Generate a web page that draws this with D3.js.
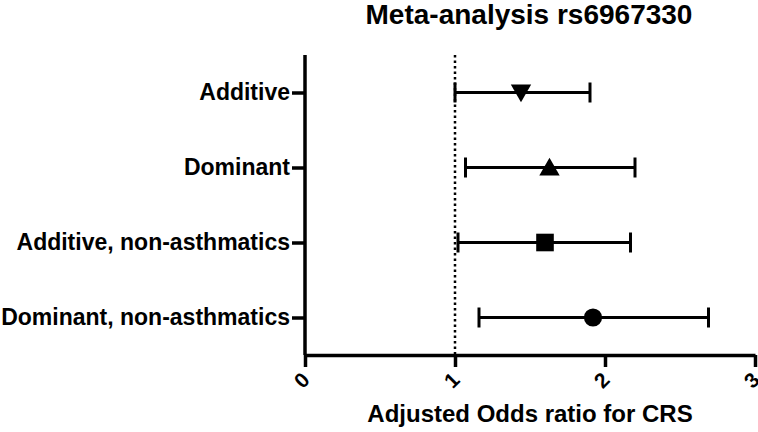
<!DOCTYPE html>
<html>
<head>
<meta charset="utf-8">
<script src="https://d3js.org/d3.v7.min.js"></script>
<style>
  body { margin: 0; background: #fff; }
  text { font-family: "Liberation Sans", Arial, sans-serif; font-weight: bold; fill: #000; }
</style>
</head>
<body>
<svg id="chart" width="758" height="432"></svg>
<script>
// data
var categories = ["Additive", "Dominant", "Additive, non-asthmatics", "Dominant, non-asthmatics"];
var oddsRatio  = [1.44, 1.63, 1.60, 1.92];
var lowerCI    = [1.00, 1.07, 1.02, 1.16];
var upperCI    = [1.90, 2.20, 2.17, 2.69];
var symbols    = ["triangleDown", "triangle", "square", "circle"];
var xTicks     = [0, 1, 2, 3];

var svg = d3.select("#chart");
var plotLeft = 305, plotRight = 755, plotTop = 55, plotBottom = 355;

var x = d3.scaleLinear().domain([0, 3]).range([plotLeft, plotRight]);
var y = d3.scalePoint().domain(categories).range([plotTop, plotBottom]).padding(0.5);

// title
svg.append("text")
  .attr("x", 529).attr("y", 24)
  .attr("text-anchor", "middle")
  .style("font-size", "28px")
  .text("Meta-analysis rs6967330");

// reference line at OR = 1
svg.append("line")
  .attr("x1", x(1)).attr("x2", x(1))
  .attr("y1", plotTop).attr("y2", plotBottom)
  .attr("stroke", "#000").attr("stroke-width", 2.5)
  .attr("stroke-dasharray", "2.5,3");

// x axis
var xAxis = svg.append("g")
  .attr("transform", "translate(0," + plotBottom + ")")
  .call(d3.axisBottom(x).tickValues(xTicks).tickFormat(d3.format("d")).tickSize(12).tickSizeOuter(0));
xAxis.select(".domain").attr("stroke-width", 3.5);
xAxis.selectAll(".tick line").attr("stroke-width", 3.5);
xAxis.selectAll(".tick text")
  .style("font-size", "21px")
  .attr("text-anchor", "middle")
  .attr("dominant-baseline", "central")
  .attr("dy", null)
  .attr("y", 0)
  .attr("transform", "translate(-4,25) rotate(-45)");

svg.append("text")
  .attr("x", 530).attr("y", 422)
  .attr("text-anchor", "middle")
  .style("font-size", "24px")
  .text("Adjusted Odds ratio for CRS");

// y axis
var yAxis = svg.append("g")
  .attr("transform", "translate(" + plotLeft + ",0)")
  .call(d3.axisLeft(y).tickSize(13).tickSizeOuter(0));
yAxis.select(".domain").attr("stroke-width", 3.5)
  .attr("d", "M0," + plotTop + "V" + plotBottom);
yAxis.selectAll(".tick line").attr("stroke-width", 3.5);
yAxis.selectAll(".tick text")
  .style("font-size", "23px")
  .attr("x", -15);

// error bars
var rows = categories.map(function(c, i) {
  return { cat: c, or: oddsRatio[i], lo: lowerCI[i], hi: upperCI[i], sym: symbols[i] };
});

var g = svg.append("g");
g.selectAll(".ci").data(rows).enter().append("line")
  .attr("x1", function(d) { return x(d.lo); })
  .attr("x2", function(d) { return x(d.hi); })
  .attr("y1", function(d) { return y(d.cat); })
  .attr("y2", function(d) { return y(d.cat); })
  .attr("stroke", "#000").attr("stroke-width", 3);

["lo", "hi"].forEach(function(k) {
  g.selectAll(".cap-" + k).data(rows).enter().append("line")
    .attr("x1", function(d) { return x(d[k]); })
    .attr("x2", function(d) { return x(d[k]); })
    .attr("y1", function(d) { return y(d.cat) - 10; })
    .attr("y2", function(d) { return y(d.cat) + 10; })
    .attr("stroke", "#000").attr("stroke-width", 3);
});

var symMap = {
  triangleDown: { type: d3.symbolTriangle, rot: 180, size: 180 },
  triangle: { type: d3.symbolTriangle, rot: 0, size: 180 },
  square: { type: d3.symbolSquare, rot: 0, size: 310 },
  circle: { type: d3.symbolCircle, rot: 0, size: 260 }
};

g.selectAll(".pt").data(rows).enter().append("path")
  .attr("d", function(d) { var s = symMap[d.sym]; return d3.symbol().type(s.type).size(s.size)(); })
  .attr("transform", function(d) {
    var s = symMap[d.sym];
    var dy = d.sym === "triangleDown" ? -2 : (d.sym === "triangle" ? 2 : 0);
    return "translate(" + x(d.or) + "," + (y(d.cat) + dy) + ") rotate(" + s.rot + ")";
  })
  .attr("fill", "#000");
</script>
</body>
</html>
